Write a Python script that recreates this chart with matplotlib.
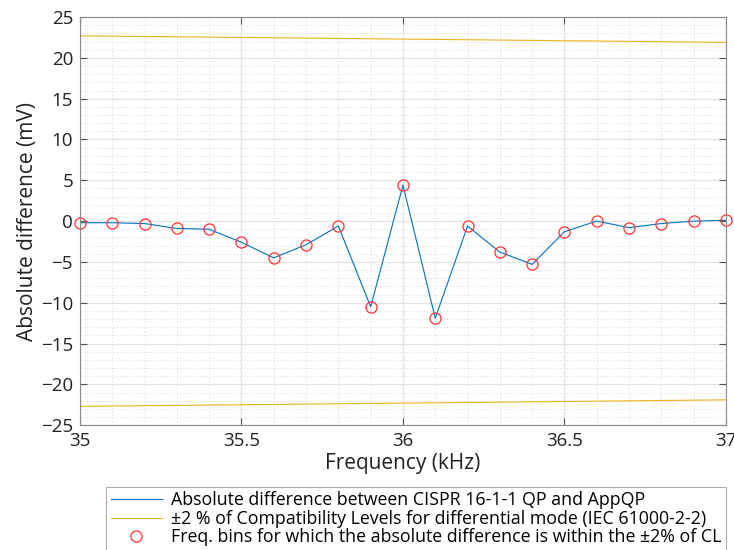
import matplotlib
matplotlib.use('Agg')
import matplotlib.pyplot as plt
from matplotlib.ticker import MultipleLocator

plt.rcParams['font.family'] = ['Open Sans', 'DejaVu Sans']

# frequency bins (kHz) and absolute difference (mV)
freq = [35.0, 35.1, 35.2, 35.3, 35.4, 35.5, 35.6, 35.7, 35.8, 35.9, 36.0,
        36.1, 36.2, 36.3, 36.4, 36.5, 36.6, 36.7, 36.8, 36.9, 37.0]
diff = [-0.2, -0.2, -0.3, -0.9, -1.0, -2.6, -4.5, -2.9, -0.6, -10.5, 4.4,
        -11.9, -0.6, -3.8, -5.3, -1.3, 0.0, -0.8, -0.3, 0.0, 0.1]

# +-2 % of compatibility levels
cl_freq = [35.0, 37.0]
cl_upper = [22.7, 21.9]
cl_lower = [-22.7, -21.9]

labels = ['Absolute difference between CISPR 16-1-1 QP and AppQP',
          '\u00b12 % of Compatibility Levels for differential mode (IEC 61000-2-2)',
          'Freq. bins for which the absolute difference is within the \u00b12% of CL']

fig = plt.figure(figsize=(7.34, 5.5), dpi=100)
ax = fig.add_axes([0.109, 0.227, 0.880, 0.742])

l1, = ax.plot(freq, diff, color='#0072BD', lw=0.8)
l2, = ax.plot(cl_freq, cl_upper, color='#EDB120', lw=0.8)
ax.plot(cl_freq, cl_lower, color='#EDB120', lw=0.8)
l3, = ax.plot(freq, diff, 'o', mfc='none', mec='#FF3030', ms=8, mew=0.9,
              linestyle='none', clip_on=False)

ax.set_xlim(35, 37)
ax.set_ylim(-25, 25)
ax.xaxis.set_major_locator(MultipleLocator(0.5))
ax.xaxis.set_minor_locator(MultipleLocator(0.1))
ax.yaxis.set_major_locator(MultipleLocator(5))
ax.yaxis.set_minor_locator(MultipleLocator(1))
ax.xaxis.set_major_formatter(plt.FuncFormatter(lambda v, p: ('%g' % v)))

ax.grid(which='major', color='#e3e3e3', lw=0.9)
ax.grid(which='minor', color='#c8c8c8', lw=0.6, linestyle=(0, (1, 3)))
ax.set_axisbelow(True)

for s in ax.spines.values():
    s.set_color('#8a8a8a')
ax.tick_params(which='both', direction='in', top=True, right=True,
               color='#555555', labelsize=13.5, pad=5, labelcolor='#222222')
ax.tick_params(which='major', length=5)
ax.tick_params(which='minor', length=0)

ax.set_xlabel('Frequency (kHz)', fontsize=15, color='#222222', labelpad=2)
ax.set_ylabel('Absolute difference (mV)', fontsize=15, color='#222222', labelpad=2)

leg = fig.legend([l1, l2, l3], labels, loc='upper right',
                 bbox_to_anchor=(0.989, 0.1145), fontsize=12.8,
                 frameon=True, fancybox=False, edgecolor='#999999',
                 handlelength=2.9, handletextpad=0.5, borderpad=0.25,
                 labelspacing=0.02, borderaxespad=0)
leg.get_frame().set_linewidth(0.8)

fig.savefig('out.png', dpi=100)
